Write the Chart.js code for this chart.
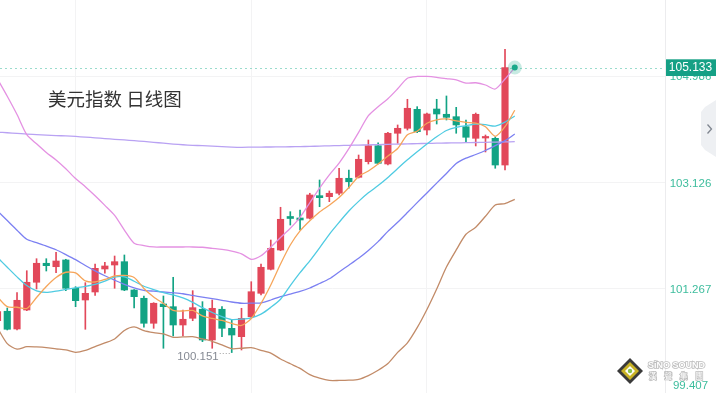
<!DOCTYPE html>
<html>
<head>
<meta charset="utf-8">
<title>美元指数 日线图</title>
<script src="https://cdn.jsdelivr.net/npm/chart.js@4/dist/chart.umd.min.js"></script>
<style>
  html, body { margin: 0; padding: 0; background: #ffffff; overflow: hidden; }
  #wrap { width: 716px; height: 393px; }
</style>
</head>
<body>
<div id="wrap"><canvas id="dxyChart" width="716" height="393"></canvas></div>
<script>
// 日K线: 开 / 高 / 低 / 收
const opens = [
  100.708, 100.873, 100.563, 100.895, 101.380, 101.712, 101.652, 101.770, 101.275, 101.070,
  101.210, 101.612, 101.682, 101.740, 101.245, 101.100, 100.663, 101.000, 100.953, 100.633,
  100.750, 100.908, 100.371, 100.908, 100.575, 100.429, 100.778, 101.187, 101.607, 101.944,
  102.530, 102.504, 102.499, 102.894, 102.876, 102.936, 103.198, 103.215, 103.488, 103.768,
  103.448, 103.985, 104.072, 104.404, 104.042, 104.409, 104.317, 104.275, 104.100, 103.897,
  103.902, 103.897, 103.430
];
const highs = [
  100.913, 100.930, 101.198, 101.582, 101.792, 101.792, 101.904, 101.782, 101.303, 101.373,
  101.700, 101.729, 101.839, 101.857, 101.250, 101.140, 101.023, 101.140, 101.467, 100.895,
  101.233, 101.041, 101.070, 100.953, 100.721, 100.925, 101.390, 101.700, 102.119, 102.691,
  102.614, 102.644, 102.936, 103.168, 102.976, 103.373, 103.343, 103.605, 103.867, 103.820,
  104.002, 104.130, 104.579, 104.450, 104.339, 104.579, 104.637, 104.439, 104.217, 104.339,
  103.955, 103.920, 105.453
];
const lows = [
  100.668, 100.546, 100.546, 100.883, 101.263, 101.577, 101.548, 101.233, 100.953, 100.558,
  101.152, 101.537, 101.275, 101.233, 100.930, 100.593, 100.575, 100.226, 100.441, 100.441,
  100.708, 100.341, 100.226, 100.429, 100.151, 100.196, 100.756, 101.158, 101.595, 101.932,
  102.381, 102.294, 102.486, 102.701, 102.789, 102.906, 103.023, 103.203, 103.448, 103.448,
  103.430, 103.810, 104.042, 103.995, 103.955, 104.147, 104.217, 103.985, 103.838, 103.763,
  103.658, 103.373, 103.343
];
const closes = [
  100.866, 100.558, 101.065, 101.380, 101.712, 101.670, 101.752, 101.275, 101.058, 101.187,
  101.624, 101.665, 101.740, 101.245, 101.128, 100.663, 101.013, 100.953, 100.633, 100.733,
  100.936, 100.371, 100.925, 100.575, 100.458, 100.750, 101.215, 101.642, 101.974, 102.481,
  102.495, 102.469, 102.906, 102.859, 102.936, 103.198, 103.138, 103.530, 103.768, 103.460,
  103.985, 104.072, 104.422, 104.013, 104.322, 104.322, 104.264, 104.130, 103.915, 104.317,
  103.929, 103.430, 105.133
];

// 均线 / 布林带 (one point more than the candles, like the picture)
const ma5 = [
  101.123, 100.953, 100.943, 100.922, 101.114, 101.307, 101.464, 101.555, 101.543, 101.403,
  101.385, 101.429, 101.490, 101.499, 101.464, 101.272, 101.123, 101.010, 100.887, 100.878,
  100.887, 100.791, 100.747, 100.712, 100.660, 100.625, 100.747, 101.010, 101.333, 101.700,
  102.032, 102.277, 102.455, 102.609, 102.728, 102.861, 103.036, 103.230, 103.326, 103.448,
  103.588, 103.719, 103.959, 104.020, 104.161, 104.221, 104.235, 104.200, 104.175, 104.163,
  104.098, 103.932, 104.100, 104.387
];
const ma10 = [
  101.814, 101.642, 101.474, 101.322, 101.230, 101.203, 101.224, 101.254, 101.282, 101.310,
  101.345, 101.401, 101.469, 101.476, 101.398, 101.310, 101.253, 101.200, 101.158, 101.106,
  101.029, 100.936, 100.852, 100.780, 100.728, 100.735, 100.759, 100.822, 100.941, 101.083,
  101.322, 101.549, 101.754, 101.981, 102.219, 102.427, 102.625, 102.794, 102.943, 103.070,
  103.212, 103.369, 103.520, 103.661, 103.798, 103.925, 104.034, 104.090, 104.118, 104.147,
  104.135, 104.111, 104.179, 104.286
];
const bollMid = [
  102.626, 102.459, 102.291, 102.132, 102.072, 102.013, 101.948, 101.864, 101.775, 101.674,
  101.579, 101.494, 101.417, 101.343, 101.282, 101.240, 101.224, 101.210, 101.196, 101.179,
  101.149, 101.121, 101.093, 101.065, 101.035, 101.013, 101.014, 101.021, 101.070, 101.130,
  101.172, 101.219, 101.280, 101.359, 101.441, 101.560, 101.679, 101.800, 101.936, 102.090,
  102.270, 102.429, 102.599, 102.772, 102.941, 103.113, 103.282, 103.457, 103.550, 103.614,
  103.684, 103.768, 103.857, 103.971
];
const bollUp = [
  104.934, 104.632, 104.312, 103.960, 103.800, 103.649, 103.518, 103.364, 103.193, 103.051,
  102.892, 102.724, 102.550, 102.293, 102.062, 102.022, 101.997, 101.997, 101.997, 101.997,
  101.997, 101.992, 101.973, 101.955, 101.925, 101.878, 101.782, 101.843, 101.994, 102.163,
  102.324, 102.515, 102.770, 103.027, 103.259, 103.464, 103.716, 104.001, 104.293, 104.450,
  104.588, 104.763, 104.948, 104.978, 104.978, 104.964, 104.941, 104.917, 104.861, 104.868,
  104.829, 104.759, 104.934, 105.133
];
const bollLow = [
  100.581, 100.307, 100.210, 100.254, 100.249, 100.238, 100.217, 100.198, 100.154, 100.188,
  100.256, 100.319, 100.389, 100.537, 100.599, 100.536, 100.501, 100.476, 100.418, 100.424,
  100.429, 100.389, 100.347, 100.284, 100.219, 100.226, 100.237, 100.191, 100.141, 100.039,
  99.955, 99.875, 99.765, 99.703, 99.663, 99.663, 99.668, 99.684, 99.749, 99.841,
  99.958, 100.154, 100.320, 100.586, 100.904, 101.263, 101.647, 101.945, 102.219, 102.342,
  102.534, 102.731, 102.756, 102.829
];
const maLong = [
  104.004, 103.994, 103.983, 103.969, 103.962, 103.953, 103.945, 103.938, 103.929, 103.918,
  103.906, 103.892, 103.880, 103.868, 103.855, 103.843, 103.827, 103.812, 103.796, 103.784,
  103.775, 103.768, 103.759, 103.752, 103.744, 103.740, 103.742, 103.744, 103.745, 103.747,
  103.749, 103.752, 103.756, 103.761, 103.766, 103.770, 103.775, 103.778, 103.782, 103.787,
  103.791, 103.796, 103.799, 103.804, 103.808, 103.812, 103.815, 103.817, 103.820, 103.824,
  103.827, 103.831, 103.834, 103.838
];

const yTicks = [99.407, 101.267, 103.126, 104.986];
const xGridAt = [8, 26, 44];
const lastPrice = 105.133;
const chartTitle = "美元指数 日线图";

const UP = "#e2485a";
const DOWN = "#12a384";
const TEAL = "#3dbd9d";

const candleColor = c => closes[c.dataIndex] >= opens[c.dataIndex] ? UP : DOWN;

function lineSet(label, values, color) {
  return {
    type: "line",
    label: label,
    data: values.map((v, i) => ({ x: i, y: v })),
    borderColor: color,
    borderWidth: 1.3,
    pointRadius: 0,
    tension: 0.25,
    order: 1
  };
}

// 标题、右侧价格刻度、最新价、最低价标注、水印
const overlay = {
  id: "overlay",
  beforeDatasetsDraw(chart) {
    const { ctx, chartArea, scales } = chart;
    const py = Math.round(scales.y.getPixelForValue(lastPrice)) + 0.5;
    ctx.save();
    ctx.strokeStyle = "#9adccd";
    ctx.lineWidth = 1;
    ctx.setLineDash([2, 3]);
    ctx.beginPath();
    ctx.moveTo(chartArea.left, py);
    ctx.lineTo(chartArea.right, py);
    ctx.stroke();
    ctx.restore();
  },
  afterDraw(chart) {
    const { ctx, chartArea, scales } = chart;
    const x = scales.x, y = scales.y;
    ctx.save();

    // title
    ctx.fillStyle = "#333333";
    ctx.font = '18.5px "Noto Sans CJK SC"';
    ctx.textAlign = "left";
    ctx.textBaseline = "middle";
    ctx.fillText(chartTitle, 48, 98.5);

    // lowest low marker
    let lowIdx = 0;
    lows.forEach((v, i) => { if (v < lows[lowIdx]) lowIdx = i; });
    const lx = x.getPixelForValue(lowIdx);
    const ly = Math.round(y.getPixelForValue(lows[lowIdx])) + 0.5;
    ctx.strokeStyle = "#a0a0a0";
    ctx.setLineDash([1, 2]);
    ctx.beginPath();
    ctx.moveTo(lx - 2, ly);
    ctx.lineTo(lx - 12, ly);
    ctx.stroke();
    ctx.setLineDash([]);
    ctx.fillStyle = "#858a93";
    ctx.font = '11.5px "Liberation Sans"';
    ctx.textAlign = "right";
    ctx.fillText(lows[lowIdx].toFixed(3), lx - 13, ly + 3);

    // watermark
    const wx = 630, wy = 371;
    ctx.fillStyle = "#3a3a3a";
    ctx.beginPath();
    ctx.moveTo(wx, wy - 13); ctx.lineTo(wx + 13, wy); ctx.lineTo(wx, wy + 13); ctx.lineTo(wx - 13, wy);
    ctx.closePath(); ctx.fill();
    ctx.fillStyle = "#c9b326";
    ctx.beginPath();
    ctx.moveTo(wx, wy - 9); ctx.lineTo(wx + 9, wy); ctx.lineTo(wx, wy + 9); ctx.lineTo(wx - 9, wy);
    ctx.closePath(); ctx.fill();
    ctx.fillStyle = "#ffffff";
    ctx.beginPath();
    ctx.moveTo(wx, wy - 5); ctx.lineTo(wx + 5, wy); ctx.lineTo(wx, wy + 5); ctx.lineTo(wx - 5, wy);
    ctx.closePath(); ctx.fill();
    ctx.fillStyle = "#8bc34a";
    ctx.beginPath(); ctx.arc(wx, wy, 2.2, 0, Math.PI * 2); ctx.fill();
    ctx.textAlign = "left";
    ctx.lineWidth = 1.6;
    ctx.strokeStyle = "#bdbdbd";
    ctx.fillStyle = "#ffffff";
    ctx.font = 'bold 9px "Liberation Sans"';
    ctx.strokeText("SiNO SOUND", 648, 366);
    ctx.fillText("SiNO SOUND", 648, 366);
    ctx.font = '7.5px "Noto Sans CJK TC"';
    ["漢", "聲", "集", "團"].forEach((ch, k) => {
      ctx.strokeText(ch, 649 + k * 15.5, 376.5);
      ctx.fillText(ch, 649 + k * 15.5, 376.5);
    });

    // y axis labels
    ctx.lineWidth = 1;
    ctx.fillStyle = TEAL;
    ctx.font = '11.5px "Liberation Sans"';
    ctx.textAlign = "center";
    ctx.textBaseline = "middle";
    yTicks.forEach(t => {
      let py = y.getPixelForValue(t) + 1;
      py = Math.min(py, chartArea.bottom - 7);
      ctx.fillText(t.toFixed(3), 690.5, py);
    });

    // last price box
    const pp = y.getPixelForValue(lastPrice);
    ctx.fillStyle = "#15a085";
    ctx.fillRect(chartArea.right + 1, pp - 8.3, 716 - chartArea.right - 1, 16.7);
    ctx.fillStyle = "#ffffff";
    ctx.font = '12px "Liberation Sans"';
    ctx.fillText(lastPrice.toFixed(3), 690.5, pp + 0.5);

    // glowing dot at the end
    const dx = x.getPixelForValue(ma5.length - 1);
    ctx.fillStyle = "rgba(30, 170, 140, 0.25)";
    ctx.beginPath(); ctx.arc(dx, pp, 7, 0, Math.PI * 2); ctx.fill();
    ctx.fillStyle = "#1aa98a";
    ctx.beginPath(); ctx.arc(dx, pp, 3, 0, Math.PI * 2); ctx.fill();

    // side tab
    ctx.fillStyle = "#eef0f3";
    ctx.beginPath();
    ctx.moveTo(716, 100); ctx.lineTo(705, 107); ctx.lineTo(701, 112);
    ctx.lineTo(701, 145); ctx.lineTo(705, 150); ctx.lineTo(716, 157);
    ctx.closePath(); ctx.fill();
    ctx.strokeStyle = "#7f858f";
    ctx.lineWidth = 1.3;
    ctx.beginPath();
    ctx.moveTo(707.5, 124.5); ctx.lineTo(711.5, 129); ctx.lineTo(707.5, 133.5);
    ctx.stroke();

    ctx.restore();
  }
};

new Chart(document.getElementById("dxyChart").getContext("2d"), {
  type: "bar",
  data: {
    datasets: [
      lineSet("MA5", ma5, "#f6a55a"),
      lineSet("MA10", ma10, "#4fcbe2"),
      lineSet("BOLL", bollMid, "#7c80f2"),
      lineSet("UB", bollUp, "#e491e2"),
      lineSet("LB", bollLow, "#c28b68"),
      lineSet("MA", maLong, "#b9a2f3"),
      {
        label: "body",
        data: closes.map((c, i) => ({ x: i, y: [opens[i], c] })),
        backgroundColor: candleColor,
        barThickness: 6.5,
        minBarLength: 1.5,
        grouped: false,
        order: 2
      },
      {
        label: "wick",
        data: closes.map((c, i) => ({ x: i, y: [lows[i], highs[i]] })),
        backgroundColor: candleColor,
        barThickness: 1,
        grouped: false,
        order: 3
      }
    ]
  },
  options: {
    responsive: false,
    animation: false,
    events: [],
    layout: { padding: 0 },
    plugins: { legend: { display: false }, tooltip: { enabled: false } },
    scales: {
      x: {
        type: "linear",
        min: 0.256,
        max: 68.393,
        offset: false,
        grid: { color: "#f3f3f4", drawTicks: false, offset: false },
        border: { display: false },
        ticks: { display: false },
        afterBuildTicks: s => { s.ticks = xGridAt.map(v => ({ value: v })); },
        afterFit: s => { s.height = 0; }
      },
      y: {
        type: "linear",
        position: "right",
        min: 99.444,
        max: 106.315,
        grid: { color: "#f3f3f4", drawTicks: false },
        border: { display: true, color: "#ececee" },
        ticks: { display: false },
        afterBuildTicks: s => { s.ticks = yTicks.filter(v => v >= s.min).map(v => ({ value: v })); },
        afterFit: s => { s.width = 51; }
      }
    }
  },
  plugins: [overlay]
});
</script>
</body>
</html>
